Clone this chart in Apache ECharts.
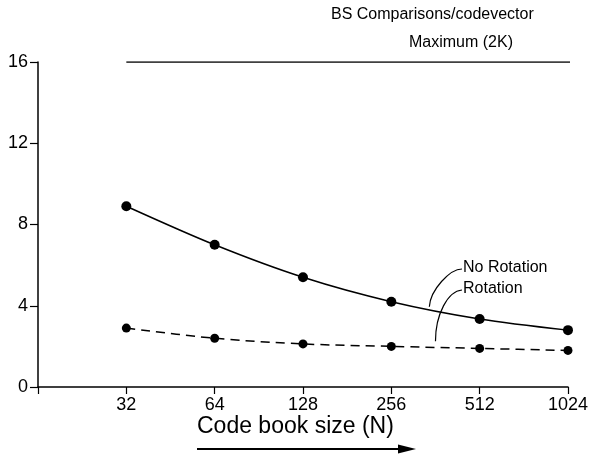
<!DOCTYPE html>
<html>
<head>
<meta charset="utf-8">
<script src="https://cdn.jsdelivr.net/npm/echarts@6/dist/echarts.min.js"></script>
<style>
  html, body { margin: 0; padding: 0; background: #fff; }
  #chart { width: 591px; height: 456px; }
</style>
</head>
<body>
<div id="chart"></div>
<script>
// code book sizes (x, log2 scale)
const bookSizes = [32, 64, 128, 256, 512, 1024]
// BS comparisons per codevector
const noRotation = [8.9, 7.0, 5.4, 4.2, 3.35, 2.8]
const rotation = [2.9, 2.4, 2.12, 2.0, 1.9, 1.8]
const maximumX = [32, 1050]
const maximumY = [16, 16]
const yTicks = [0, 4, 8, 12, 16]

const FONT = '"Liberation Sans", Arial, sans-serif'

let chart = echarts.init(document.getElementById('chart'), null, { renderer: 'canvas' })

const pairs = (xs, ys) => xs.map((x, i) => [x, ys[i]])

chart.setOption({
    animation: false,
    backgroundColor: '#fff',
    grid: { left: 38, right: 23, top: 62, bottom: 69 },
    xAxis: {
        type: 'log',
        logBase: 2,
        min: 16,
        max: 1024,
        splitNumber: 6,
        axisLine: { show: true, lineStyle: { color: '#000', width: 1.5 } },
        axisTick: { show: true, length: 7, lineStyle: { color: '#000', width: 1.2 } },
        splitLine: { show: false },
        axisLabel: {
            color: '#000', fontFamily: FONT, fontSize: 18, margin: 9,
            formatter: (v) => (v < 20 ? '' : String(Math.round(v)))
        }
    },
    yAxis: {
        type: 'value',
        min: yTicks[0],
        max: yTicks[yTicks.length - 1],
        interval: 4,
        axisLine: { show: true, lineStyle: { color: '#000', width: 1.5 } },
        axisTick: { show: true, length: 8, lineStyle: { color: '#000', width: 1.2 } },
        splitLine: { show: false },
        axisLabel: { color: '#000', fontFamily: FONT, fontSize: 18, margin: 10 }
    },
    series: [
        {
            name: 'No Rotation',
            type: 'line',
            smooth: 0.3,
            data: pairs(bookSizes, noRotation),
            symbol: 'circle',
            symbolSize: 10,
            itemStyle: { color: '#000' },
            lineStyle: { color: '#000', width: 1.5 }
        },
        {
            name: 'Rotation',
            type: 'line',
            smooth: 0.3,
            data: pairs(bookSizes, rotation),
            symbol: 'circle',
            symbolSize: 9,
            itemStyle: { color: '#000' },
            lineStyle: { color: '#000', width: 1.5, type: [9, 6] }
        },
        {
            name: 'Maximum (2K)',
            type: 'line',
            data: pairs(maximumX, maximumY),
            symbol: 'none',
            lineStyle: { color: '#000', width: 1.5 }
        }
    ]
})

// annotations: text + leader curves, anchored from data positions
const toPx = (p) => chart.convertToPixel({ gridIndex: 0 }, p)
const nrAnchor = toPx([345, 3.95])
const rAnchor = toPx([362, 2.25])
const nrText = [463, 269]
const rText = [463, 290]

chart.setOption({
    graphic: [
        { type: 'text', left: 331, top: 7, style: { text: 'BS Comparisons/codevector', font: '16px ' + FONT, fill: '#000' } },
        { type: 'text', left: 409, top: 35, style: { text: 'Maximum (2K)', font: '16px ' + FONT, fill: '#000' } },
        { type: 'text', left: nrText[0], top: nrText[1] - 9, style: { text: 'No Rotation', font: '16px ' + FONT, fill: '#000' } },
        { type: 'text', left: rText[0], top: rText[1] - 9, style: { text: 'Rotation', font: '16px ' + FONT, fill: '#000' } },
        {
            type: 'bezierCurve',
            shape: {
                x1: nrText[0] - 1, y1: nrText[1],
                cpx1: nrText[0] - 13, cpy1: nrText[1],
                cpx2: nrAnchor[0] + 1, cpy2: nrAnchor[1] - 17,
                x2: nrAnchor[0], y2: nrAnchor[1]
            },
            style: { stroke: '#000', lineWidth: 1.2, fill: 'none' }
        },
        {
            type: 'bezierCurve',
            shape: {
                x1: rText[0] - 1, y1: rText[1],
                cpx1: rText[0] - 15, cpy1: rText[1] + 1,
                cpx2: rAnchor[0], cpy2: rAnchor[1] - 27,
                x2: rAnchor[0], y2: rAnchor[1]
            },
            style: { stroke: '#000', lineWidth: 1.2, fill: 'none' }
        },
        { type: 'text', left: 197, top: 415, style: { text: 'Code book size (N)', font: '23px ' + FONT, fill: '#000' } },
        { type: 'line', shape: { x1: 197, y1: 449, x2: 402, y2: 449 }, style: { stroke: '#000', lineWidth: 2 } },
        { type: 'polygon', shape: { points: [[398, 444.5], [416, 449], [398, 453.5]] }, style: { fill: '#000' } }
    ]
})
</script>
</body>
</html>
